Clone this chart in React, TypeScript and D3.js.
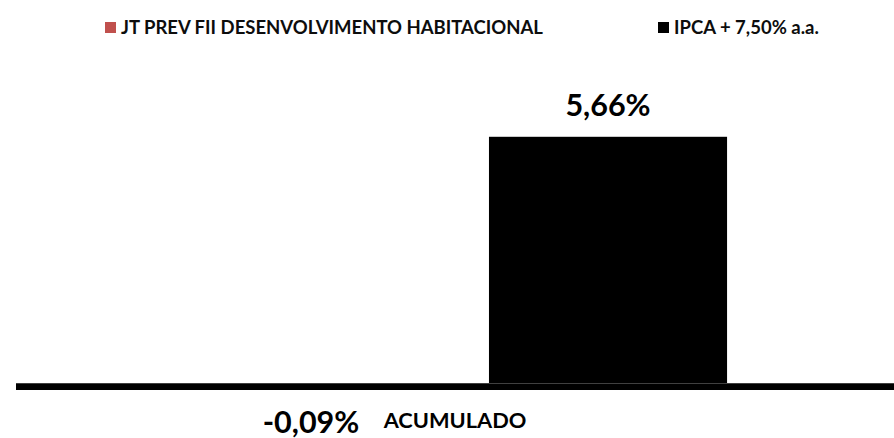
import * as d3 from 'd3'
import { useEffect, useRef } from 'react'

// chart data
const categories = ['ACUMULADO']
const seriesNames = ['JT PREV FII DESENVOLVIMENTO HABITACIONAL', 'IPCA + 7,50% a.a.']
const seriesColors = ['#C0504D', '#000000']
const seriesValues = [-0.09, 5.66]
const legendX = [105, 658]

const width = 894
const height = 438
const font = 'Lato, "Open Sans", sans-serif'

export default function App() {
    const svgRef = useRef<SVGSVGElement>(null)

    useEffect(() => {
        const svg = d3.select(svgRef.current)
        svg.selectAll('*').remove()

        const x0 = d3.scaleBand().domain(categories).range([16, width])
        const x1 = d3.scaleBand()
            .domain(seriesNames)
            .range([0, x0.bandwidth()])
            .paddingInner(0.222)
            .paddingOuter(0.5455)
        const y = d3.scaleLinear().domain([0, 6]).range([383, 122])

        const fmt = (v: number) => v.toFixed(2).replace('.', ',') + '%'

        // bars
        const g = svg.append('g')
        categories.forEach((cat) => {
            seriesNames.forEach((s, i) => {
                const v = seriesValues[i]
                g.append('rect')
                    .attr('x', x0(cat)! + x1(s)!)
                    .attr('y', y(Math.max(0, v)))
                    .attr('width', x1.bandwidth())
                    .attr('height', Math.abs(y(v) - y(0)))
                    .attr('fill', seriesColors[i])
            })
        })

        // zero line / category axis
        svg.append('line')
            .attr('x1', 16).attr('x2', width)
            .attr('y1', y(0) + 3.5).attr('y2', y(0) + 3.5)
            .attr('stroke', '#000')
            .attr('stroke-width', 7)
        svg.append('line')
            .attr('x1', 16).attr('x2', width)
            .attr('y1', y(0) + 0.5).attr('y2', y(0) + 0.5)
            .attr('stroke', '#404040')
            .attr('stroke-width', 1)

        // value labels
        categories.forEach((cat) => {
            seriesNames.forEach((s, i) => {
                const v = seriesValues[i]
                const cx = x0(cat)! + x1(s)! + x1.bandwidth() / 2
                svg.append('text')
                    .attr('x', v < 0 ? cx + 9 : cx)
                    .attr('y', v < 0 ? 433 : y(v) - 21)
                    .attr('text-anchor', 'middle')
                    .attr('font-family', font)
                    .attr('font-weight', 700)
                    .attr('font-size', 30.5)
                    .attr('fill', '#000')
                    .text(fmt(v))
            })
            svg.append('text')
                .attr('x', x0(cat)! + x0.bandwidth() / 2)
                .attr('y', 428)
                .attr('text-anchor', 'middle')
                .attr('font-family', font)
                .attr('font-weight', 700)
                .attr('font-size', 21.8)
                .attr('fill', '#000')
                .text(cat)
        })

        // legend
        const legend = svg.append('g')
        seriesNames.forEach((s, i) => {
            legend.append('rect')
                .attr('x', legendX[i]).attr('y', 22)
                .attr('width', 11).attr('height', 11)
                .attr('fill', seriesColors[i])
            legend.append('text')
                .attr('x', legendX[i] + 16)
                .attr('y', 33.5)
                .attr('font-family', font)
                .attr('font-weight', 700)
                .attr('font-size', 18.5)
                .attr('fill', '#0d0d0d')
                .text(s)
        })
    }, [])

    return (
        <svg
            ref={svgRef}
            width={width}
            height={height}
            style={{ position: 'absolute', left: 0, top: 0, background: '#fff' }}
        />
    )
}
